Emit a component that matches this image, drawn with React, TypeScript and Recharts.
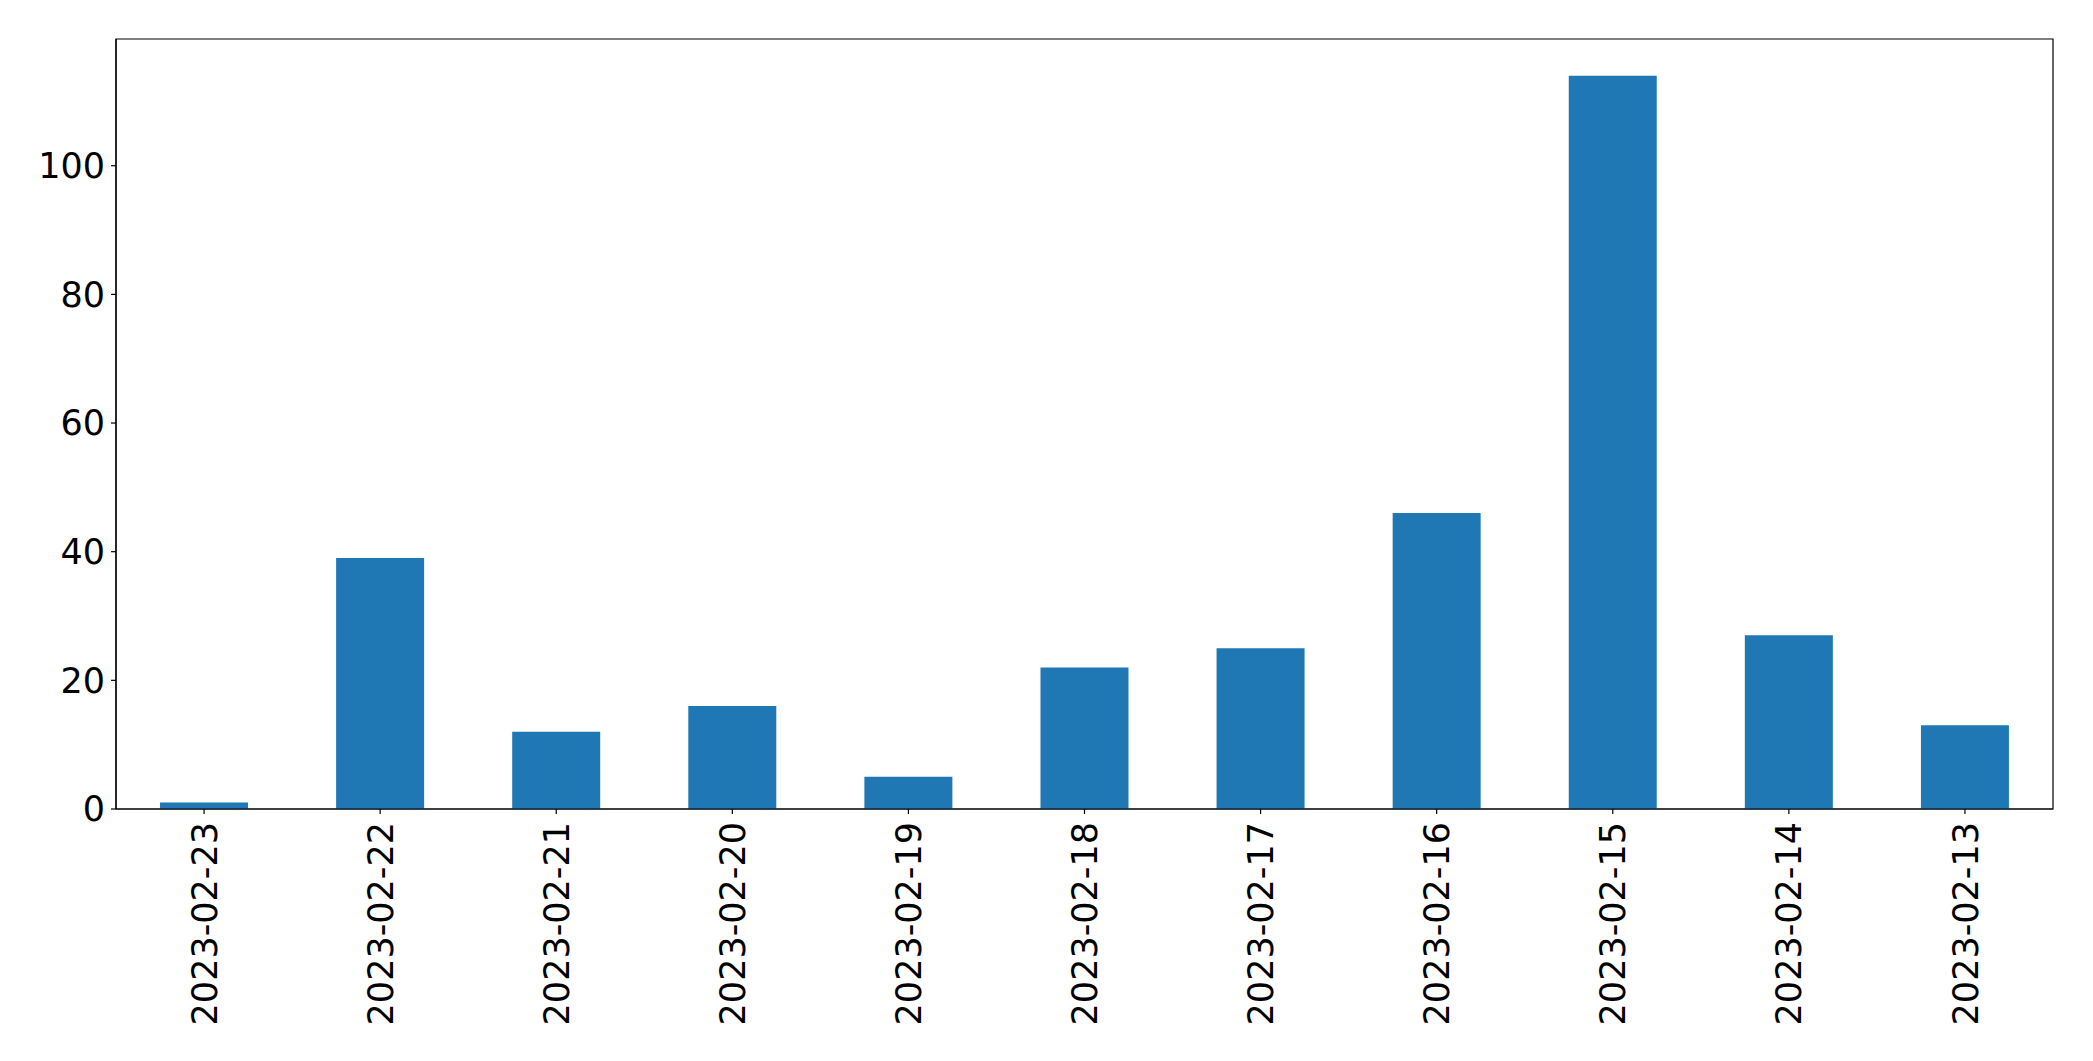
import React from "react";
import { BarChart, Bar, XAxis, YAxis, ReferenceArea } from "recharts";

const categories = [
  "2023-02-23",
  "2023-02-22",
  "2023-02-21",
  "2023-02-20",
  "2023-02-19",
  "2023-02-18",
  "2023-02-17",
  "2023-02-16",
  "2023-02-15",
  "2023-02-14",
  "2023-02-13",
];
const counts = [1, 39, 12, 16, 5, 22, 25, 46, 114, 27, 13];
const yTicks = [0, 20, 40, 60, 80, 100];
const yMax = 114 * 1.05;

const data = categories.map((c, i) => ({ date: c, count: counts[i] }));

const FONT = "DejaVu Sans";

const RotatedTick = (props: any) => {
  const { x, y, payload } = props;
  return (
    <text
      x={0}
      y={0}
      transform={`translate(${x},${y + 6}) rotate(-90)`}
      textAnchor="end"
      dy="0.36em"
      fontSize={35}
      fontFamily={FONT}
      fill="#000"
    >
      {payload.value}
    </text>
  );
};

export default function App() {
  return (
    <div style={{ width: 2085, height: 1053 }}>
      <BarChart
        width={2085}
        height={1053}
        data={data}
        margin={{ top: 31, right: 40, bottom: 12, left: 8 }}
        barCategoryGap="25%"
      >
        <XAxis
          dataKey="date"
          interval={0}
          height={240}
          tickSize={5}
          tickLine={{ stroke: "#000", strokeWidth: 1.2 }}
          axisLine={{ stroke: "#000", strokeWidth: 1.2 }}
          tick={<RotatedTick />}
        />
        <YAxis
          width={100}
          type="number"
          domain={[0, yMax]}
          ticks={yTicks}
          allowDataOverflow
          tickSize={5}
          tickMargin={6}
          tickLine={{ stroke: "#000", strokeWidth: 1.2 }}
          axisLine={{ stroke: "#000", strokeWidth: 1.2 }}
          tick={{ fontSize: 35, fontFamily: FONT, fill: "#000" }}
        />
        <Bar dataKey="count" fill="#1f77b4" isAnimationActive={false} />
        <ReferenceArea
          y1={0}
          y2={yMax}
          fill="none"
          fillOpacity={0}
          stroke="#000"
          strokeWidth={1.2}
          ifOverflow="visible"
        />
      </BarChart>
    </div>
  );
}
